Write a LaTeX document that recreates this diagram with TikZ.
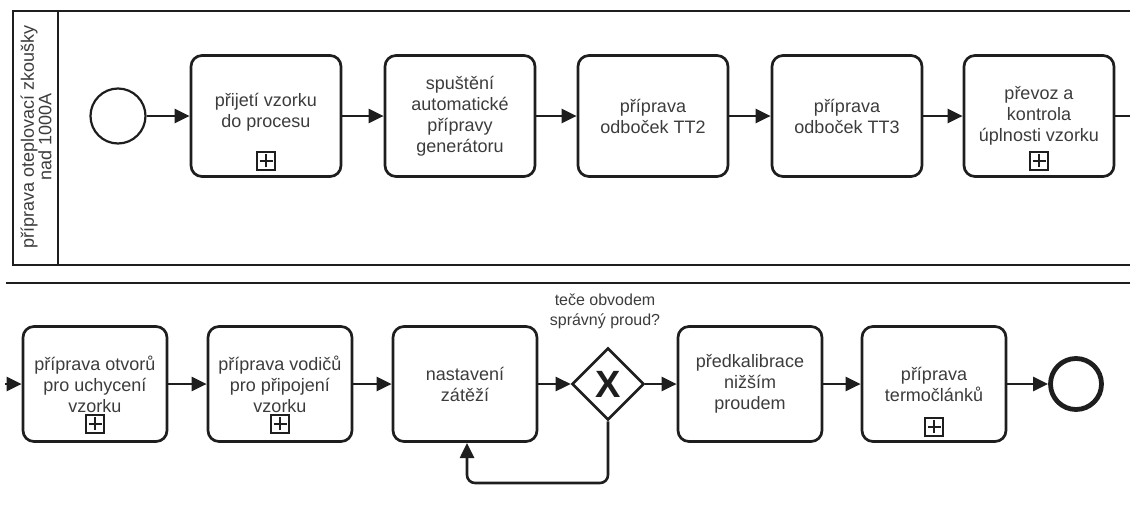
\documentclass[tikz,border=0pt]{standalone}
\usepackage{fontspec}
\setmainfont{Liberation Sans}
\usetikzlibrary{arrows.meta,shapes.geometric}
\definecolor{ln}{HTML}{1E1E1E}
\definecolor{tx}{HTML}{3C3C3C}
\begin{document}
\begin{tikzpicture}[x=1pt,y=-1pt,
  task/.style={draw=ln, line width=2.7pt, rounded corners=11pt, minimum width=150pt,
    minimum height=121pt, align=center, text=tx, inner sep=0pt,
    font=\fontsize{18}{21}\selectfont},
  tasklow/.style={task, minimum width=144pt, minimum height=115pt},
  flow/.style={draw=ln, line width=2.6pt, -{Triangle[length=15pt,width=14pt]}},
  plainflow/.style={draw=ln, line width=2.6pt},
  submark/.style={draw=ln, line width=1.4pt, minimum size=18pt, inner sep=0pt,
    path picture={
      \draw[ln, line width=2.3pt] ([yshift=2.5pt]path picture bounding box.south) -- ([yshift=-2.5pt]path picture bounding box.north);
      \draw[ln, line width=2.3pt] ([xshift=2.5pt]path picture bounding box.west) -- ([xshift=-2.5pt]path picture bounding box.east);
    }},
  startev/.style={draw=ln, circle, line width=2.2pt, minimum size=55pt, inner sep=0pt},
  endev/.style={draw=ln, circle, line width=4.8pt, minimum size=51pt, inner sep=0pt},
  gate/.style={draw=ln, diamond, line width=2.6pt, minimum width=72pt, minimum height=72pt,
    aspect=1, inner sep=0pt, text=ln, font=\fontsize{38}{38}\selectfont\bfseries},
  lbl/.style={text=tx, align=center, inner sep=0pt}
]
\useasboundingbox (0,0) rectangle (1130,520);

% pool / lane
\draw[ln, line width=2.2pt] (1130,11) -- (13,11) -- (13,265) -- (1130,265);
\draw[ln, line width=2.2pt] (58,11) -- (58,265);
\node[lbl, rotate=90, font=\fontsize{18}{17.5}\selectfont] (lane) at (36,137)
  {příprava oteplovací zkoušky\\nad 1000A};

% separator line
\draw[ln, line width=2.2pt] (6,283) -- (1130,283);

% row 1
\node[startev] (start) at (118,116) {};
\node[task] (t1) at (266,116) {};
\node[lbl, font=\fontsize{18}{21}\selectfont] (t1txt) at (266,112) {přijetí vzorku\\do procesu};
\node[task] (t2) at (460,116) {spuštění\\automatické\\přípravy\\generátoru};
\node[task] (t3) at (653,116) {příprava\\odboček TT2};
\node[task] (t4) at (847,116) {příprava\\odboček TT3};
\node[task] (t5) at (1039,116) {převoz a\\kontrola\\úplnosti vzorku};
\node[submark] (m1) at ([yshift=17pt]t1.south) {};
\node[submark] (m5) at ([yshift=17pt]t5.south) {};
\coordinate (r1end) at (1130,116);

\draw[flow] (start) -- (t1);
\draw[flow] (t1) -- (t2);
\draw[flow] (t2) -- (t3);
\draw[flow] (t3) -- (t4);
\draw[flow] (t4) -- (t5);
\draw[plainflow] (t5.east) -- (r1end);

% row 2
\coordinate (r2start) at (5,384);
\node[tasklow] (a) at (95,384) {příprava otvorů\\pro uchycení\\vzorku};
\node[tasklow] (b) at (280,384) {příprava vodičů\\pro připojení\\vzorku};
\node[tasklow] (c) at (465,384) {nastavení\\zátěží};
\node[gate] (g) at (608,384) {X};
\node[tasklow] (d) at (750,384) {předkalibrace\\nižším\\proudem};
\node[tasklow] (e) at (934,384) {příprava\\termočlánků};
\node[endev] (end) at (1076,384) {};
\node[submark] (ma) at ([yshift=19pt]a.south) {};
\node[submark] (mb) at ([yshift=19pt]b.south) {};
\node[submark] (me) at ([yshift=16pt]e.south) {};
\node[lbl, font=\fontsize{16}{20}\selectfont] (glabel) at (605,311)
  {teče obvodem\\správný proud?};

\draw[flow] (r2start) -- (a);
\draw[flow] (a) -- (b);
\draw[flow] (b) -- (c);
\draw[flow] (c) -- (g);
\draw[flow] (g) -- (d);
\draw[flow] (d) -- (e);
\draw[flow] (e) -- (end);
\draw[flow, rounded corners=8pt] (g.south) -- (608,483) -- (467,483) -- (467,443);
\end{tikzpicture}
\end{document}
